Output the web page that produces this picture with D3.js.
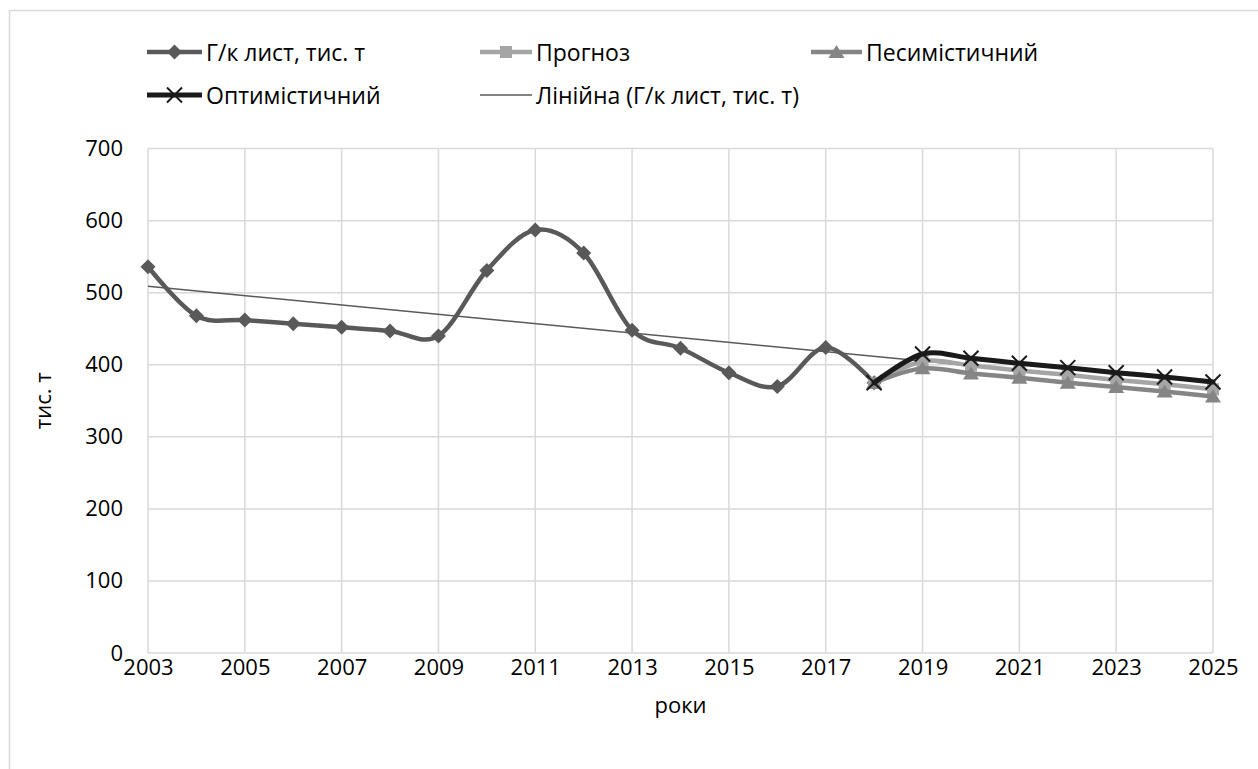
<!DOCTYPE html>
<html>
<head>
<meta charset="utf-8">
<script src="https://cdn.jsdelivr.net/npm/d3@7"></script>
<style>
  html, body { margin: 0; padding: 0; background: #fff; }
  svg { display: block; }
  text { font-family: "Open Sans", "Segoe UI", sans-serif; fill: #000; }
</style>
</head>
<body>
<svg id="chart" width="1258" height="769"></svg>
<script>
// Hot-rolled sheet output, thousand tonnes
const yearsActual   = [2003, 2004, 2005, 2006, 2007, 2008, 2009, 2010, 2011, 2012, 2013, 2014, 2015, 2016, 2017, 2018];
const actualValues  = [536, 468, 462, 457, 452, 447, 440, 531, 587, 555, 448, 423, 389, 370, 424, 375];

// Forecast scenarios 2018–2025
const yearsForecast      = [2018, 2019, 2020, 2021, 2022, 2023, 2024, 2025];
const forecastValues     = [375, 405, 399, 392, 386, 379, 373, 366];
const pessimisticValues  = [375, 395, 388, 382, 375, 369, 363, 356];
const optimisticValues   = [375, 415, 409, 402, 396, 389, 383, 376];

// Axis ticks
const xTickYears = [2003, 2005, 2007, 2009, 2011, 2013, 2015, 2017, 2019, 2021, 2023, 2025];
const yTickValues = [0, 100, 200, 300, 400, 500, 600, 700];

// Series labels
const seriesNames = ["Г/к лист, тис. т", "Прогноз", "Песимістичний", "Оптимістичний", "Лінійна (Г/к лист, тис. т)"];

const svg = d3.select("#chart");
const W = 1258, H = 769;
const plot = { left: 148, right: 1213, top: 148.6, bottom: 653 };
const FONT = 22, LEGEND_FONT = 23;

// Chart frame
svg.append("rect")
  .attr("x", 9.5).attr("y", 10.5)
  .attr("width", W + 10).attr("height", H + 10)
  .attr("fill", "#fff").attr("stroke", "#d9d9d9").attr("stroke-width", 1.5);

const x = d3.scaleLinear().domain([2003, 2025]).range([plot.left, plot.right]);
const y = d3.scaleLinear().domain([0, 700]).range([plot.bottom, plot.top]);

// Gridlines
const grid = svg.append("g").attr("stroke", "#d9d9d9").attr("stroke-width", 1.5);
grid.selectAll("line.h").data(yTickValues).join("line")
  .attr("x1", plot.left).attr("x2", plot.right)
  .attr("y1", d => y(d)).attr("y2", d => y(d));
grid.selectAll("line.v").data(xTickYears).join("line")
  .attr("x1", d => x(d)).attr("x2", d => x(d))
  .attr("y1", plot.top).attr("y2", plot.bottom);

// Axes (labels only; lines come from the grid)
const yAxis = svg.append("g")
  .attr("transform", `translate(${plot.left},0)`)
  .call(d3.axisLeft(y).tickValues(yTickValues).tickSize(0).tickPadding(25));
const xAxis = svg.append("g")
  .attr("transform", `translate(0,${plot.bottom})`)
  .call(d3.axisBottom(x).tickValues(xTickYears).tickFormat(d3.format("d")).tickSize(0).tickPadding(6));
[yAxis, xAxis].forEach(g => {
  g.select(".domain").remove();
  g.selectAll("text").attr("font-size", FONT).attr("font-family", "'Open Sans', sans-serif").attr("fill", "#000");
});

// Axis titles
svg.append("text")
  .attr("transform", `translate(42,${(plot.top + plot.bottom) / 2}) rotate(-90)`)
  .attr("text-anchor", "middle").attr("dominant-baseline", "central")
  .attr("font-size", FONT).text("тис. т");
svg.append("text")
  .attr("x", (plot.left + plot.right) / 2).attr("y", 704)
  .attr("text-anchor", "middle").attr("dominant-baseline", "central")
  .attr("font-size", FONT).text("роки");

// Linear trend fitted to the actual series (least squares)
const mx = d3.mean(yearsActual), my = d3.mean(actualValues);
const slope = d3.sum(yearsActual, (t, i) => (t - mx) * (actualValues[i] - my)) /
              d3.sum(yearsActual, t => (t - mx) ** 2);
const intercept = my - slope * mx;
const trendYears = [2003, 2025];
svg.append("line")
  .attr("x1", x(trendYears[0])).attr("y1", y(intercept + slope * trendYears[0]))
  .attr("x2", x(trendYears[1])).attr("y2", y(intercept + slope * trendYears[1]))
  .attr("stroke", "#595959").attr("stroke-width", 1.6);

const smooth = d3.line().curve(d3.curveCardinal.tension(0));

// Marker symbols
function marker(g, type, color, cx, cy) {
  if (type === "diamond") {
    g.append("path").attr("d", `M${cx},${cy - 7.5}L${cx + 7.5},${cy}L${cx},${cy + 7.5}L${cx - 7.5},${cy}Z`).attr("fill", color);
  } else if (type === "square") {
    g.append("rect").attr("x", cx - 6).attr("y", cy - 6).attr("width", 12).attr("height", 12).attr("fill", color);
  } else if (type === "triangle") {
    g.append("path").attr("d", `M${cx},${cy - 7}L${cx + 8},${cy + 6}L${cx - 8},${cy + 6}Z`).attr("fill", color);
  } else if (type === "cross") {
    g.append("path").attr("d", `M${cx - 7.5},${cy - 7.5}L${cx + 7.5},${cy + 7.5}M${cx + 7.5},${cy - 7.5}L${cx - 7.5},${cy + 7.5}`)
      .attr("stroke", color).attr("stroke-width", 2).attr("fill", "none");
  }
}

const series = [
  { name: seriesNames[0], years: yearsActual,   values: actualValues,      color: "#595959", width: 4.5, marker: "diamond",  markerColor: "#595959" },
  { name: seriesNames[1], years: yearsForecast, values: forecastValues,    color: "#a5a5a5", width: 4.5, marker: "square",   markerColor: "#a5a5a5" },
  { name: seriesNames[2], years: yearsForecast, values: pessimisticValues, color: "#858585", width: 4.5, marker: "triangle", markerColor: "#858585" },
  { name: seriesNames[3], years: yearsForecast, values: optimisticValues,  color: "#1a1a1a", width: 5,   marker: "cross",    markerColor: "#1a1a1a" }
];

series.forEach(s => {
  const g = svg.append("g");
  const pts = s.years.map((t, i) => [x(t), y(s.values[i])]);
  g.append("path").attr("d", smooth(pts))
    .attr("fill", "none").attr("stroke", s.color).attr("stroke-width", s.width)
    .attr("stroke-linejoin", "round").attr("stroke-linecap", "round");
  pts.forEach(p => marker(g, s.marker, s.markerColor, p[0], p[1]));
});

// Legend
const legendItems = [
  { s: series[0], lx: 147, tx: 206, cy: 52 },
  { s: series[1], lx: 480, tx: 536, cy: 52 },
  { s: series[2], lx: 811, tx: 866, cy: 52 },
  { s: series[3], lx: 147, tx: 206, cy: 95 },
  { s: { name: seriesNames[4], color: "#595959", width: 1.6 }, lx: 480, tx: 536, cy: 95 }
];
const legend = svg.append("g");
legendItems.forEach(it => {
  const g = legend.append("g");
  g.append("line").attr("x1", it.lx).attr("x2", it.tx - 4).attr("y1", it.cy).attr("y2", it.cy)
    .attr("stroke", it.s.color).attr("stroke-width", it.s.width);
  if (it.s.marker) marker(g, it.s.marker, it.s.markerColor, (it.lx + it.tx - 4) / 2, it.cy);
  g.append("text").attr("x", it.tx).attr("y", it.cy)
    .attr("dominant-baseline", "central").attr("font-size", LEGEND_FONT).text(it.s.name);
});
</script>
</body>
</html>
